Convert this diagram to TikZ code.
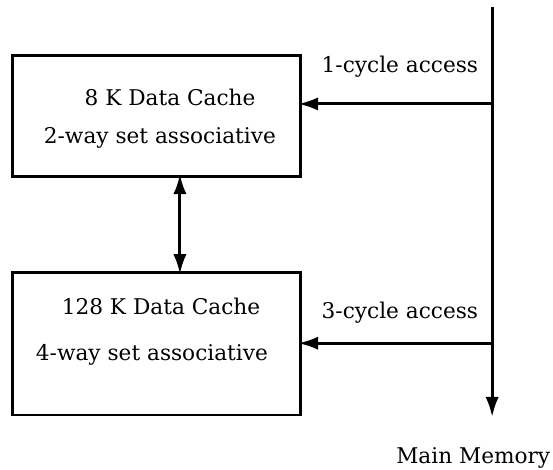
\documentclass[tikz,border=0pt]{standalone}
\usepackage{fontspec}
\setmainfont{DejaVu Serif}
\usetikzlibrary{arrows.meta}
\begin{document}
\begin{tikzpicture}[
  cachebox/.style={draw, line width=2.2pt, inner sep=0pt, outer sep=0pt},
  label/.style={font=\fontsize{16.3}{19}\selectfont},
  link/.style={line width=2.2pt, -{Latex[length=15pt,width=10pt]}, shorten >=-1.5pt},
  duallink/.style={line width=2.2pt, {Latex[length=15pt,width=10pt]}-{Latex[length=15pt,width=10pt]}, shorten >=-1.5pt, shorten <=-1.5pt}
]
\useasboundingbox (0,0) rectangle (14.63,12.41);
% caches
\node[cachebox, minimum width=7.62cm, minimum height=3.2cm] (cache1) at (4.13,9.35) {};
\node[cachebox, minimum width=7.62cm, minimum height=3.78cm] (cache2) at (4.13,3.32) {};
\node[label] (name1) at (4.50,9.84) {8 K Data Cache};
\node[label] (assoc1) at (4.23,8.76) {2-way set associative};
\node[label] (name2) at (4.26,4.29) {128 K Data Cache};
\node[label] (assoc2) at (4.02,3.02) {4-way set associative};
% main memory bus
\coordinate (bustop) at (13.02,12.22);
\coordinate (busend) at (13.02,1.38);
\coordinate (tap1) at (13.02,9.66);
\coordinate (tap2) at (13.02,3.33);
\coordinate (mid) at (4.76,0);
\node[label] (mem) at (12.52,0.29) {Main Memory};
\node[label] (acc1) at (10.58,10.64) {1-cycle access};
\node[label] (acc2) at (10.58,4.13) {3-cycle access};
\draw[link, shorten >=0pt] (bustop) -- (busend);
\draw[link] (tap1) -- (cache1.east |- tap1);
\draw[link] (tap2) -- (cache2.east |- tap2);
\draw[duallink] (cache1.south -| mid) -- (cache2.north -| mid);
\end{tikzpicture}
\end{document}
